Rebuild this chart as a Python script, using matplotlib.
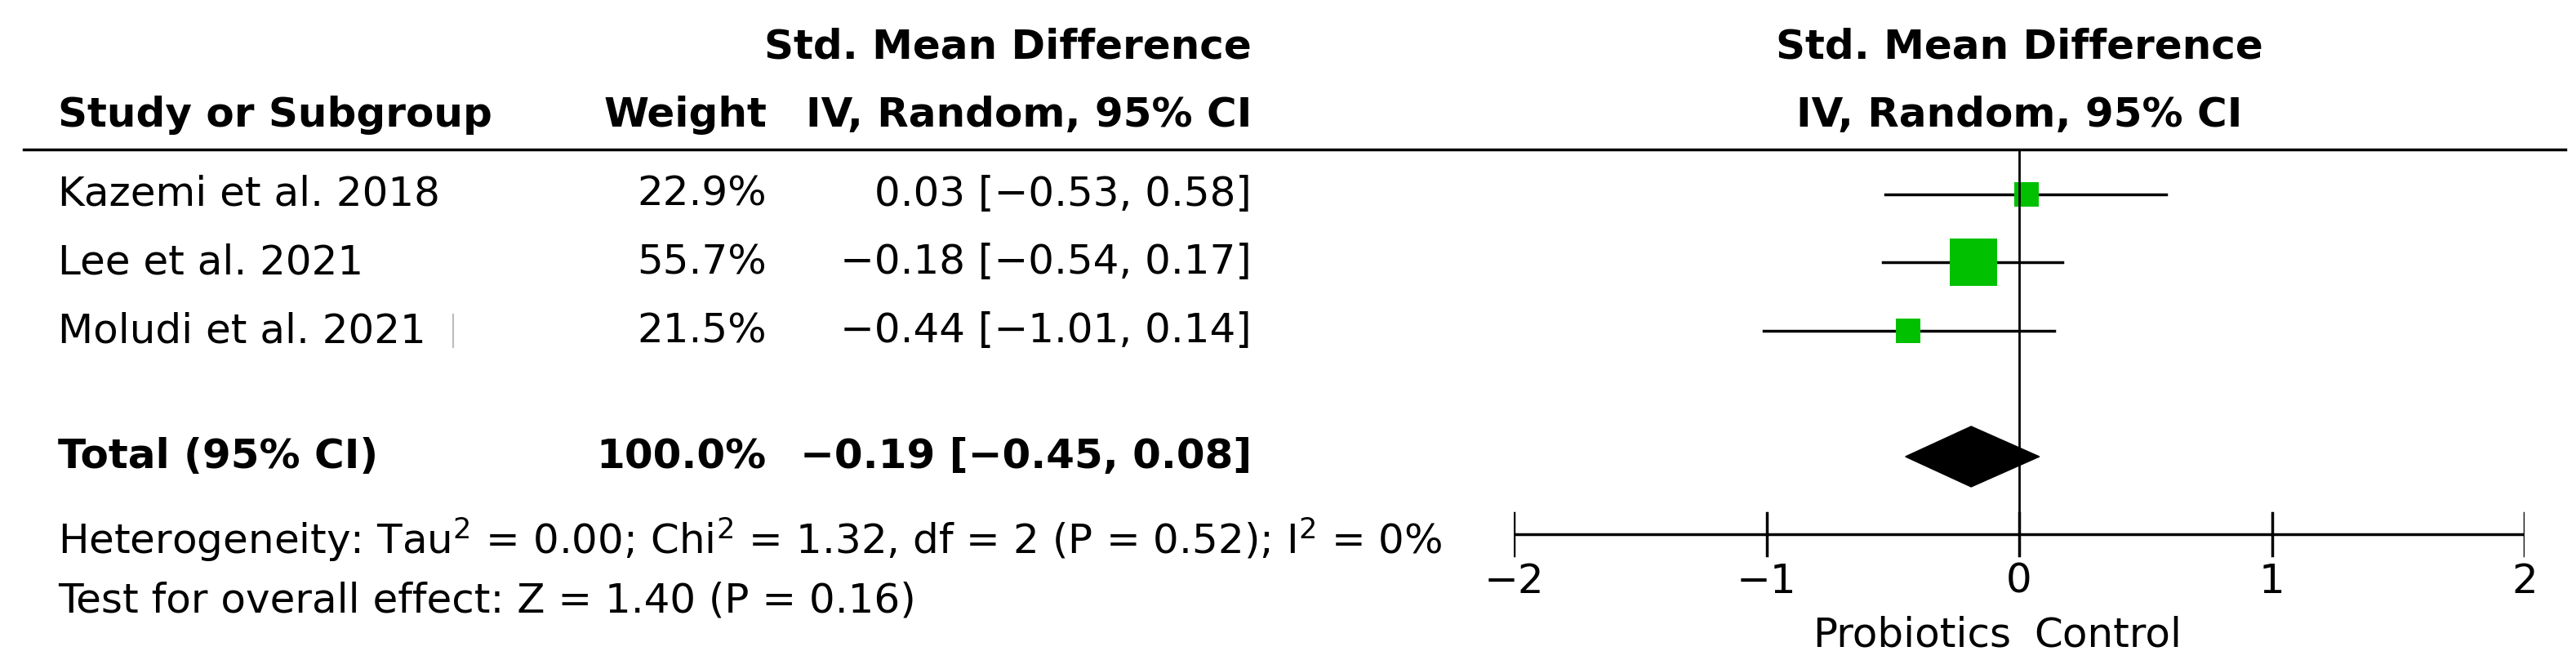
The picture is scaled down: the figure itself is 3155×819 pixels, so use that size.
import matplotlib
matplotlib.use("Agg")
import matplotlib.pyplot as plt
from matplotlib.patches import Polygon

studies = ["Kazemi et al. 2018", "Lee et al. 2021", "Moludi et al. 2021"]
weights = ["22.9%", "55.7%", "21.5%"]
est = [0.03, -0.18, -0.44]
lo = [-0.53, -0.54, -1.01]
hi = [0.58, 0.17, 0.14]
wnum = [22.9, 55.7, 21.5]
total_est, total_lo, total_hi = -0.19, -0.45, 0.08
ticks = [-2, -1, 0, 1, 2]

W, H = 3155, 819
fig = plt.figure(figsize=(W/100, H/100), dpi=100)
ax = fig.add_axes([0, 0, 1, 1])
ax.set_xlim(0, W); ax.set_ylim(H, 0); ax.axis("off")
fa = fig.add_axes([1854/W, 0, (3092-1854)/W, 1])
fa.set_xlim(-2, 2); fa.set_ylim(H, 0); fa.axis("off")
fa.patch.set_alpha(0)

fs = 36
ff = ["Liberation Sans Narrow", "DejaVu Sans"]
bold = dict(fontsize=fs, fontweight="bold", family=ff, va="center")
reg = dict(fontsize=fs, family=ff, va="center")

ax.text(1234, 57, "Std. Mean Difference", ha="center", **bold)
ax.text(71, 141, "Study or Subgroup", ha="left", **bold)
ax.text(939, 141, "Weight", ha="right", **bold)
ax.text(1533, 141, "IV, Random, 95% CI", ha="right", **bold)
ax.text(2473, 57, "Std. Mean Difference", ha="center", **bold)
ax.text(2473, 141, "IV, Random, 95% CI", ha="center", **bold)
ax.plot([29, 3142], [183, 183], color="black", lw=2.5)

rows_y = [238, 321, 405]
for i, y in enumerate(rows_y):
    ax.text(71, y, studies[i], ha="left", **reg)
    ax.text(939, y, weights[i], ha="right", **reg)
    ax.text(1533, y, f"{est[i]:.2f} [{lo[i]:.2f}, {hi[i]:.2f}]".replace("-", "\u2212"), ha="right", **reg)
    fa.plot([lo[i], hi[i]], [y, y], color="black", lw=2.5)
    ms = 21 if wnum[i] < 30 else 42
    fa.plot(est[i], y, "s", color="#00c000", markersize=ms, markeredgewidth=0)
ax.plot([555, 555], [385, 425], color="#bbbbbb", lw=1.5)

ty = 559
ax.text(71, ty, "Total (95% CI)", ha="left", **bold)
ax.text(939, ty, "100.0%", ha="right", **bold)
ax.text(1533, ty, f"{total_est:.2f} [{total_lo:.2f}, {total_hi:.2f}]".replace("-", "\u2212"), ha="right", **bold)
fa.add_patch(Polygon([[total_lo, ty], [total_est, ty-37], [total_hi, ty], [total_est, ty+37]],
                     closed=True, color="black"))

ax.text(71, 661, "Heterogeneity: Tau$^2$ = 0.00; Chi$^2$ = 1.32, df = 2 (P = 0.52); I$^2$ = 0%", ha="left", **reg)
ax.text(71, 736, "Test for overall effect: Z = 1.40 (P = 0.16)", ha="left", **reg)

fa.plot([0, 0], [183, 654], color="black", lw=2)
fa.plot([-2, 2], [654, 654], color="black", lw=2.5)
for t in ticks:
    fa.plot([t, t], [628, 680], color="black", lw=2.5)
    fa.text(t, 712, str(t).replace("-", "\u2212"), ha="center", **reg)
fa.text(-0.03, 778, "Probiotics", ha="right", **reg)
fa.text(0.06, 778, "Control", ha="left", **reg)

fig.savefig("out.png", dpi=100, facecolor="white")
